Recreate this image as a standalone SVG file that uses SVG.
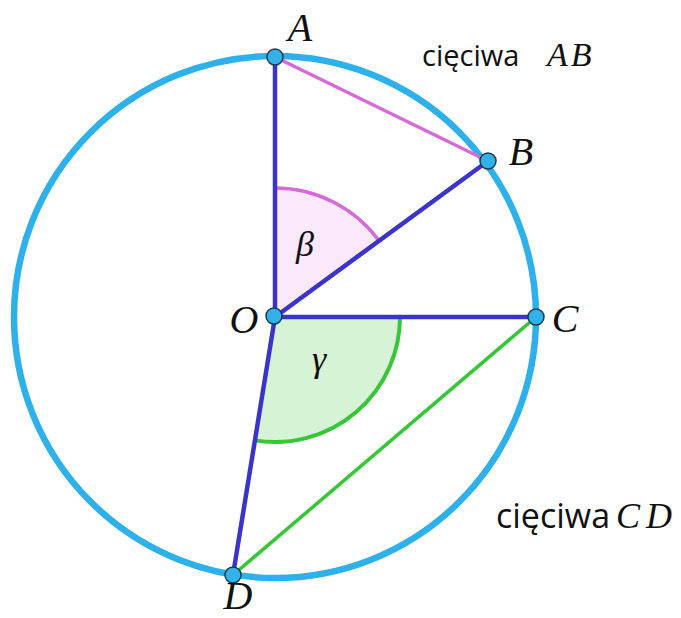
<svg xmlns="http://www.w3.org/2000/svg" width="681" height="618" viewBox="0 0 681 618">
<style>
.pt{fill:#33b2ea;stroke:#163c50;stroke-width:1.5}
.lbl{font-family:"Liberation Serif",serif;font-style:italic;font-size:40px;fill:#111;text-anchor:middle}
.ang{font-family:"Liberation Serif",serif;font-style:italic;font-size:36px;fill:#111;text-anchor:middle}
.txt{font-family:"Open Sans","Noto Sans",sans-serif;fill:#111}
.math{font-family:"Liberation Serif",serif;font-style:italic;fill:#111;letter-spacing:3px}
.rad{stroke:#3a34c9;stroke-width:4.5;fill:none;stroke-linecap:round}
</style>
<rect width="681" height="618" fill="#fff"/>
<circle id="circle" cx="275" cy="317" r="261" fill="none" stroke="#2eb0ea" stroke-width="6.5"/>
<g id="angles">
<path d="M275,317 L275,188 A129,129 0 0,1 379.1,240.8 Z" fill="#fbe8fb"/>
<path d="M275,188 A129,129 0 0,1 379.1,240.8" fill="none" stroke="#d66ad6" stroke-width="3.5"/>
<path d="M275,317 L400,317 A125,125 0 0,1 254.9,440.4 Z" fill="#d6f3d6"/>
<path d="M400,317 A125,125 0 0,1 254.9,440.4" fill="none" stroke="#36c636" stroke-width="4"/>
<text class="ang" x="305" y="256">β</text>
<text class="ang" x="319" y="371">γ</text>
</g>
<g id="connectors">
<line x1="275" y1="57" x2="488" y2="161" stroke="#d66ad6" stroke-width="3.5"/>
<line x1="536" y1="317" x2="233" y2="575" stroke="#36c636" stroke-width="3.5"/>
<line class="rad" x1="275" y1="317" x2="275" y2="57"/>
<line class="rad" x1="275" y1="317" x2="488" y2="161"/>
<line class="rad" x1="275" y1="317" x2="536" y2="317"/>
<line class="rad" x1="275" y1="317" x2="233" y2="575"/>
</g>
<g id="A"><circle class="pt" cx="275" cy="57" r="8"/><text class="lbl" x="300" y="41">A</text></g>
<g id="B"><circle class="pt" cx="488" cy="161" r="8"/><text class="lbl" x="521" y="165">B</text></g>
<g id="C"><circle class="pt" cx="536" cy="317" r="8"/><text class="lbl" x="565" y="332">C</text></g>
<g id="D"><circle class="pt" cx="233" cy="575" r="8"/><text class="lbl" x="238" y="609">D</text></g>
<g id="O"><circle class="pt" cx="274" cy="316" r="8"/><text class="lbl" x="244" y="333">O</text></g>
<g id="labelAB"><text class="txt" x="422" y="66" font-size="29">cięciwa</text><text class="math" x="547" y="66" font-size="34">AB</text></g>
<g id="labelCD"><text class="txt" x="496" y="528" font-size="34">cięciwa</text><text class="math" x="616" y="528" font-size="36" style="letter-spacing:6px">CD</text></g>
</svg>
